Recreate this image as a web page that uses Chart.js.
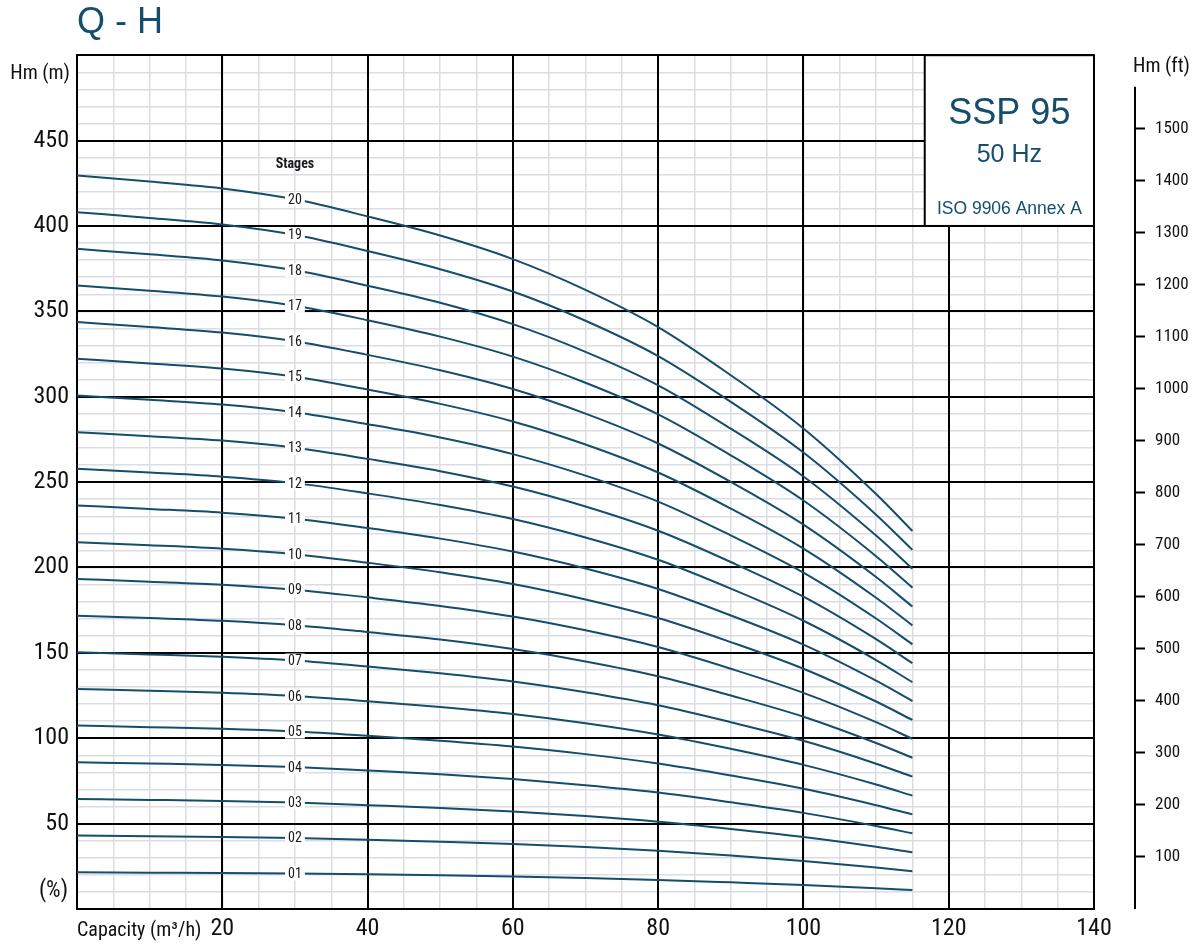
<!DOCTYPE html>
<html>
<head>
<meta charset="utf-8">
<title>SSP 95 - Q-H</title>
<script src="https://cdn.jsdelivr.net/npm/chart.js@4.4.1/dist/chart.umd.min.js"></script>
<style>
    html, body { margin: 0; padding: 0; background: #ffffff; }
    #wrap { width: 1192px; height: 944px; position: relative; }
</style>
</head>
<body>
<div id="wrap"><canvas id="qhChart"></canvas></div>
<script>
const flowRates = [0, 10, 20, 30, 40, 50, 60, 70, 80, 90, 100, 110, 115];

// Stage names, bottom curve first
const stageNames = ['01', '02', '03', '04', '05', '06', '07', '08', '09', '10',
                    '11', '12', '13', '14', '15', '16', '17', '18', '19', '20'];

// Head (m) of each stage curve at the flow rates above
const stageHeads = [
    [21.5, 21.3, 21.1, 20.8, 20.3, 19.7, 19.0, 18.1, 17.0, 15.6, 14.1, 12.2, 11.1],
    [43.0, 42.6, 42.2, 41.6, 40.6, 39.4, 38.1, 36.3, 34.1, 31.3, 28.1, 24.3, 22.1],
    [64.4, 63.9, 63.3, 62.3, 60.8, 59.2, 57.1, 54.4, 51.1, 46.9, 42.2, 36.5, 33.2],
    [85.9, 85.2, 84.4, 83.1, 81.1, 78.9, 76.1, 72.5, 68.2, 62.5, 56.3, 48.6, 44.3],
    [107.4, 106.5, 105.5, 103.9, 101.4, 98.6, 95.2, 90.7, 85.2, 78.2, 70.4, 60.8, 55.4],
    [128.9, 127.8, 126.6, 124.7, 121.7, 118.3, 114.2, 108.8, 102.2, 93.8, 84.4, 72.9, 66.4],
    [150.4, 149.1, 147.7, 145.5, 142.0, 138.0, 133.2, 126.9, 119.3, 109.4, 98.5, 85.1, 77.5],
    [171.8, 170.4, 168.8, 166.2, 162.2, 157.8, 152.2, 145.0, 136.3, 125.0, 112.6, 97.2, 88.6],
    [193.3, 191.7, 189.9, 187.0, 182.5, 177.5, 171.3, 163.2, 153.4, 140.7, 126.6, 109.4, 99.6],
    [214.8, 213.0, 211.0, 207.8, 202.8, 197.2, 190.3, 181.3, 170.4, 156.3, 140.7, 121.5, 110.7],
    [236.3, 234.3, 232.1, 228.6, 223.1, 216.9, 209.3, 199.4, 187.4, 171.9, 154.8, 133.7, 121.8],
    [257.8, 255.6, 253.2, 249.4, 243.4, 236.6, 228.4, 217.6, 204.5, 187.6, 168.8, 145.8, 132.8],
    [279.2, 276.9, 274.3, 270.1, 263.6, 256.4, 247.4, 235.7, 221.5, 203.2, 182.9, 158.0, 143.9],
    [300.7, 298.2, 295.4, 290.9, 283.9, 276.1, 266.4, 253.8, 238.6, 218.8, 197.0, 170.1, 155.0],
    [322.2, 319.5, 316.5, 311.7, 304.2, 295.8, 285.5, 272.0, 255.6, 234.5, 211.1, 182.3, 166.1],
    [343.7, 340.8, 337.6, 332.5, 324.5, 315.5, 304.5, 290.1, 272.6, 250.1, 225.1, 194.4, 177.1],
    [365.2, 362.1, 358.7, 353.3, 344.8, 335.2, 323.5, 308.2, 289.7, 265.7, 239.2, 206.6, 188.2],
    [386.6, 383.4, 379.8, 374.0, 365.0, 355.0, 342.5, 326.3, 306.7, 281.3, 253.3, 218.7, 199.3],
    [408.1, 404.7, 400.9, 394.8, 385.3, 374.7, 361.6, 344.5, 323.8, 297.0, 267.3, 230.9, 210.3],
    [429.6, 426.0, 422.0, 415.6, 405.6, 394.4, 380.6, 362.6, 340.8, 312.6, 281.4, 243.0, 221.4]
];

// Axis ranges and labelled ticks
const flowMax = 140;
const headMax = 500;
const flowLabels = [20, 40, 60, 80, 100, 120, 140];
const headLabels = [50, 100, 150, 200, 250, 300, 350, 400, 450];
const feetLabels = [100, 200, 300, 400, 500, 600, 700, 800, 900, 1000, 1100, 1200, 1300, 1400, 1500];
const labelFlow = 30;   // flow where the stage numbers sit
const boxFlow = 116.7;  // left edge of the model box
const boxHead = 400;    // bottom edge of the model box

const blue = '#154d6c';
const minorGrid = '#dcdde3';
const narrow = '"Roboto Condensed", "Liberation Sans", sans-serif';
const sans = '"Liberation Sans", Arial, sans-serif';

// Texts, stage numbers and the model box on top of the curves
const chartTexts = {
    id: 'chartTexts',
    afterDatasetsDraw(chart) {
        const { ctx, chartArea } = chart;
        const x = chart.scales.x;
        const y = chart.scales.y;
        const ft = chart.scales.yFeet;
        const labelIndex = flowRates.indexOf(labelFlow);

        ctx.save();

        // stage numbers with a white gap in the line
        ctx.font = '14px ' + narrow;
        ctx.textAlign = 'center';
        ctx.textBaseline = 'middle';
        stageNames.forEach((name, i) => {
            const px = x.getPixelForValue(labelFlow);
            const py = y.getPixelForValue(stageHeads[i][labelIndex]);
            const w = ctx.measureText(name).width;
            ctx.fillStyle = '#ffffff';
            ctx.fillRect(px - w / 2 - 3, py - 7, w + 6, 14);
            ctx.fillStyle = '#1a1a1a';
            ctx.fillText(name, px, py + 1);
        });

        ctx.font = 'bold 14px ' + narrow;
        ctx.fillText('Stages', x.getPixelForValue(labelFlow), y.getPixelForValue(436));

        // model box in the top right corner
        const bx = x.getPixelForValue(boxFlow);
        const by = y.getPixelForValue(boxHead);
        ctx.fillStyle = '#ffffff';
        ctx.fillRect(bx, chartArea.top, chartArea.right - bx, by - chartArea.top);
        ctx.strokeStyle = '#000000';
        ctx.lineWidth = 2;
        ctx.strokeRect(bx, chartArea.top, chartArea.right - bx, by - chartArea.top);

        const cx = (bx + chartArea.right) / 2;
        ctx.fillStyle = blue;
        ctx.textBaseline = 'alphabetic';
        ctx.font = '36px ' + sans;
        ctx.fillText('SSP 95', cx, 124);
        ctx.font = '25px ' + sans;
        ctx.fillText('50 Hz', cx, 162);
        ctx.font = '17.5px ' + sans;
        ctx.fillText('ISO 9906 Annex A', cx, 214);

        // axis captions
        ctx.fillStyle = '#111111';
        ctx.textAlign = 'right';
        ctx.font = '20px ' + narrow;
        ctx.fillText('Hm (m)', chartArea.left - 7, 79);
        ctx.font = '23px ' + narrow;
        ctx.fillText('(%)', chartArea.left - 9, 897);

        ctx.textAlign = 'left';
        ctx.font = '20px ' + narrow;
        ctx.fillText('Capacity (m\u00b3/h)', chartArea.left, 936);
        ctx.fillText('Hm (ft)', ft.left - 2, 72);

        // right hand feet axis line
        ctx.beginPath();
        ctx.moveTo(ft.left, ft.getPixelForValue(1580));
        ctx.lineTo(ft.left, chartArea.bottom);
        ctx.strokeStyle = '#000000';
        ctx.lineWidth = 2;
        ctx.stroke();

        ctx.restore();
    }
};

const datasets = stageNames.map((name, i) => ({
    label: name,
    data: flowRates.map((q, j) => ({ x: q, y: stageHeads[i][j] })),
    borderColor: blue,
    borderWidth: 2,
    pointRadius: 0,
    fill: false,
    tension: 0.4,
    cubicInterpolationMode: 'monotone'
}));

const ctx = document.getElementById('qhChart').getContext('2d');
const qhChart = new Chart(ctx, {
    type: 'line',
    data: { datasets: datasets },
    options: {
        responsive: true,
        maintainAspectRatio: false,
        animation: false,
        events: [],
        layout: { padding: 0 },
        plugins: {
            legend: { display: false },
            tooltip: { enabled: false },
            title: {
                display: true,
                text: 'Q - H',
                align: 'start',
                fullSize: false,
                color: blue,
                font: { family: sans, size: 36, weight: 'normal' },
                padding: { top: 1, bottom: 11 }
            }
        },
        scales: {
            // major lines and labels
            x: {
                type: 'linear',
                min: 0,
                max: flowMax,
                afterFit: s => { s.height = 35; },
                border: { display: true, color: '#000', width: 2 },
                grid: { drawTicks: false, color: '#000000', lineWidth: 2 },
                ticks: {
                    stepSize: 20,
                    maxRotation: 0,
                    padding: 6,
                    color: '#111',
                    font: { family: narrow, size: 24 },
                    callback: v => flowLabels.includes(v) ? String(v) : ''
                }
            },
            // fine grid every 5 m3/h, drawn below the major lines
            xMinor: {
                type: 'linear',
                position: 'bottom',
                min: 0,
                max: flowMax,
                afterFit: s => { s.height = 0; },
                border: { display: false },
                grid: { drawTicks: false, color: minorGrid, lineWidth: 1.5, z: -2 },
                ticks: { display: false, stepSize: 5, autoSkip: false }
            },
            y: {
                type: 'linear',
                position: 'left',
                min: 0,
                max: headMax,
                afterFit: s => { s.width = 77; },
                border: { display: true, color: '#000', width: 2 },
                grid: { drawTicks: false, color: '#000000', lineWidth: 2 },
                ticks: {
                    stepSize: 50,
                    padding: 8,
                    color: '#111',
                    font: { family: narrow, size: 24 },
                    callback: v => headLabels.includes(v) ? String(v) : ''
                }
            },
            // fine grid every 10 m
            yMinor: {
                type: 'linear',
                position: 'left',
                min: 0,
                max: headMax,
                afterFit: s => { s.width = 0; },
                border: { display: false },
                grid: { drawTicks: false, color: minorGrid, lineWidth: 1.5, z: -2 },
                ticks: { display: false, stepSize: 10, autoSkip: false }
            },
            yGap: {
                type: 'linear',
                position: 'right',
                weight: 0,
                afterFit: s => { s.width = 41; },
                border: { display: false },
                grid: { display: false },
                ticks: { display: false }
            },
            yFeet: {
                type: 'linear',
                position: 'right',
                weight: 1,
                min: 0,
                max: headMax / 0.3048,
                afterFit: s => { s.width = 57; },
                border: { display: false },
                grid: {
                    drawOnChartArea: false,
                    drawTicks: true,
                    tickLength: 10,
                    tickWidth: 2,
                    tickColor: c => feetLabels.includes(c.tick.value) ? '#000000' : 'rgba(0,0,0,0)'
                },
                ticks: {
                    stepSize: 100,
                    autoSkip: false,
                    padding: 10,
                    color: '#111',
                    font: { family: narrow, size: 17 },
                    callback: v => feetLabels.includes(v) ? String(v) : ''
                }
            }
        }
    },
    plugins: [chartTexts]
});
</script>
</body>
</html>
